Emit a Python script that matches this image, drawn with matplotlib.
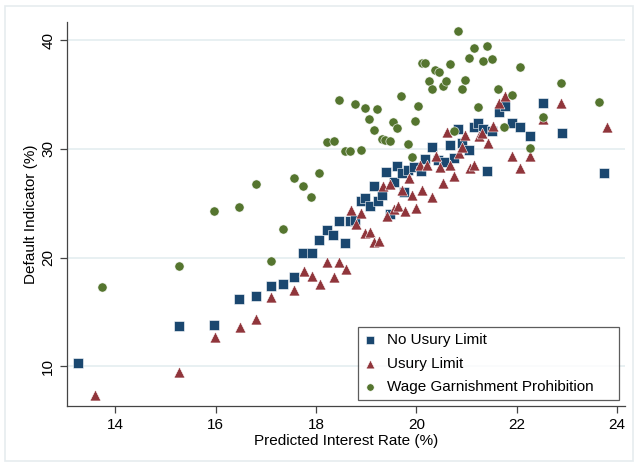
import matplotlib.pyplot as plt
from matplotlib.patches import Rectangle

plt.rcParams['font.family'] = ['Liberation Sans', 'DejaVu Sans']

# No Usury Limit
nul_x = [13.26, 15.27, 15.97, 16.46, 16.81, 17.11, 17.35, 17.56, 17.75, 17.93,
         18.06, 18.22, 18.34, 18.57, 18.45, 18.67, 18.77, 18.89, 18.98, 19.07,
         19.23, 19.32, 19.15, 19.39, 19.55, 19.62, 19.48, 19.76, 19.71, 19.84,
         19.96, 20.09, 20.18, 20.31, 20.43, 20.55, 20.67, 20.74, 20.82, 20.91,
         21.04, 21.14, 21.22, 21.33, 21.51, 21.40, 21.64, 21.76, 21.91, 22.07,
         22.27, 22.52, 22.90, 23.73]
nul_y = [10.33, 13.69, 13.80, 16.20, 16.45, 17.43, 17.59, 18.26, 20.38, 20.38,
         21.58, 22.53, 22.04, 21.33, 23.33, 23.39, 23.46, 25.17, 25.51, 24.77,
         25.21, 25.79, 26.55, 27.84, 26.96, 28.40, 24.00, 26.00, 27.79, 28.03,
         28.34, 27.94, 29.10, 30.20, 29.00, 28.80, 30.40, 29.20, 31.87, 30.58,
         29.90, 32.03, 32.36, 31.87, 31.70, 28.00, 33.40, 33.93, 32.42, 32.06,
         31.20, 34.20, 31.46, 27.80]

# Usury Limit
ul_x = [13.60, 15.27, 15.98, 16.48, 16.81, 17.11, 17.56, 17.76, 17.92, 18.08,
        18.22, 18.46, 18.35, 18.59, 18.69, 18.89, 18.79, 18.98, 19.08, 19.16,
        19.25, 19.33, 19.48, 19.42, 19.56, 19.64, 19.78, 19.99, 19.71, 19.85,
        19.92, 20.12, 20.07, 20.22, 20.32, 20.40, 20.47, 20.53, 20.61, 20.67,
        20.74, 20.84, 20.90, 20.97, 21.07, 21.14, 21.24, 21.30, 21.42, 21.52,
        21.64, 21.77, 21.90, 22.07, 22.27, 22.52, 22.89, 23.79]
ul_y = [7.35, 9.50, 12.73, 13.60, 14.36, 16.41, 17.03, 18.78, 18.32, 17.56,
        19.64, 19.58, 18.26, 18.97, 24.40, 24.10, 23.10, 22.26, 22.38, 21.40,
        21.50, 26.60, 26.80, 23.85, 24.50, 24.77, 24.30, 24.60, 26.25, 27.30,
        25.80, 26.20, 28.50, 28.50, 25.60, 29.40, 28.30, 26.87, 31.60, 28.50,
        27.54, 29.60, 30.15, 31.30, 28.25, 28.50, 31.20, 31.47, 30.55, 32.10,
        34.24, 34.85, 29.40, 28.25, 29.40, 32.80, 34.20, 32.03]

# Wage Garnishment Prohibition
wg_x = [13.73, 15.28, 15.97, 16.46, 16.81, 17.11, 17.35, 17.56, 17.74, 17.90,
        18.06, 18.21, 18.35, 18.45, 18.58, 18.67, 18.78, 18.89, 18.97, 19.06,
        19.15, 19.22, 19.32, 19.38, 19.47, 19.54, 19.62, 19.69, 19.83, 19.91,
        19.98, 20.04, 20.11, 20.18, 20.25, 20.32, 20.38, 20.45, 20.53, 20.59,
        20.67, 20.74, 20.83, 20.90, 20.97, 21.05, 21.14, 21.22, 21.32, 21.40,
        21.51, 21.63, 21.75, 21.90, 22.07, 22.27, 22.52, 22.88, 23.64]
wg_y = [17.34, 19.27, 24.30, 24.70, 26.80, 19.70, 22.65, 27.30, 26.60, 25.60,
        27.80, 30.64, 30.74, 34.48, 29.80, 29.80, 34.17, 29.87, 33.80, 32.80,
        31.75, 33.70, 30.95, 30.80, 30.77, 32.45, 31.90, 34.85, 30.50, 29.30,
        32.60, 34.00, 37.90, 37.90, 36.27, 35.50, 37.30, 37.10, 35.77, 36.27,
        37.86, 31.69, 40.84, 35.56, 36.39, 38.40, 39.30, 33.87, 38.10, 39.46,
        38.26, 35.50, 32.00, 35.00, 37.52, 30.10, 32.95, 36.04, 34.30]

x_ticks = [14, 16, 18, 20, 22, 24]
y_ticks = [10, 20, 30, 40]

navy = '#1a476f'
maroon = '#90353b'
forest = '#55752f'

fig = plt.figure(figsize=(6.38, 4.66), dpi=100)
fig.patches.append(Rectangle((0.008, 0.01), 0.984, 0.978, transform=fig.transFigure,
                             fill=False, edgecolor='#e6ecef', linewidth=1.2))
ax = fig.add_axes([0.105, 0.129, 0.875, 0.824])

ax.scatter(nul_x, nul_y, marker='s', s=62, color=navy, edgecolors='white',
           linewidths=0.4, label='No Usury Limit', zorder=3)
ax.scatter(ul_x, ul_y, marker='^', s=62, color=maroon, edgecolors='white',
           linewidths=0.4, label='Usury Limit', zorder=3)
ax.scatter(wg_x, wg_y, marker='o', s=44, color=forest, edgecolors='white',
           linewidths=0.4, label='Wage Garnishment Prohibition', zorder=3)

ax.set_xlim(13.04, 24.16)
ax.set_ylim(6.35, 41.7)
ax.set_xticks(x_ticks)
ax.set_yticks(y_ticks)
ax.grid(axis='y', color='#e4eef0', linewidth=1.2, zorder=0)
ax.set_axisbelow(True)

for s in ['top', 'right']:
    ax.spines[s].set_visible(False)
for s in ['left', 'bottom']:
    ax.spines[s].set_color('#444444')
    ax.spines[s].set_linewidth(0.9)

ax.tick_params(axis='both', direction='out', length=5, width=0.9, color='#444444',
               labelsize=11, labelcolor='black')
plt.setp(ax.get_yticklabels(), rotation=90, va='center')

ax.set_xlabel('Predicted Interest Rate (%)', fontsize=11, labelpad=2)
ax.set_ylabel('Default Indicator (%)', fontsize=11, labelpad=2)

# legend box stretched to the reference width (text stays left aligned)
leg = ax.legend(loc='lower left', bbox_to_anchor=(0.5215, 0.0156, 0.4677, 0.2),
                mode='expand', fontsize=11, frameon=True, fancybox=False,
                edgecolor='#333333', handletextpad=0.7, borderpad=0.4,
                labelspacing=0.6, borderaxespad=0, markerscale=0.8,
                handlelength=0.8)
leg.get_frame().set_linewidth(0.9)

fig.savefig('out.png', dpi=100, facecolor='white')
